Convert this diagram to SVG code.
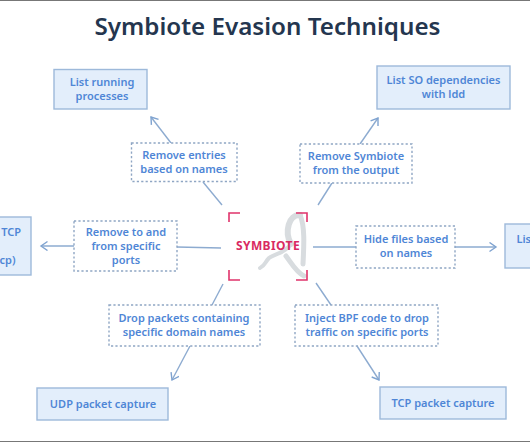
<svg xmlns="http://www.w3.org/2000/svg" width="530" height="442" viewBox="0 0 530 442">
<style>
.t{font-family:"Noto Sans","Liberation Sans",sans-serif;font-size:11px;font-weight:600;fill:#4f86d6;text-anchor:middle}
.s{fill:#e3eefb;stroke:#9db9da;stroke-width:1.4}
.d{fill:#fff;stroke:#8fa6c4;stroke-width:1.4;stroke-dasharray:2.2 2.2}
.c{fill:none;stroke:#8dabd0;stroke-width:1.4}
.b{fill:none;stroke:#e0336b;stroke-width:1.6}
.m{fill:none;stroke:#d8dcdf;stroke-linecap:round}
</style>
<defs>
<marker id="a" markerWidth="12" markerHeight="12" refX="9.5" refY="5" orient="auto" markerUnits="userSpaceOnUse"><path d="M3 0.5L9.5 5L3 9.5" fill="none" stroke="#7fa3d0" stroke-width="1.4"/></marker>
</defs>
<rect width="530" height="442" fill="#fff"/>
<rect width="530" height="1" fill="#777"/>
<rect y="441" width="530" height="1" fill="#777"/>
<text x="267.500" y="35" text-anchor="middle" font-family="Noto Sans,Liberation Sans,sans-serif" font-size="24.200" font-weight="600" fill="#24364f">Symbiote Evasion Techniques</text>
<g id="connectors">
<path class="c" d="M171 143L151 117" marker-end="url(#a)"/>
<path class="c" d="M203 182L222 205"/>
<path class="c" d="M360 144L378 118" marker-end="url(#a)"/>
<path class="c" d="M332 183L318 205"/>
<path class="c" d="M74 246H41" marker-end="url(#a)"/>
<path class="c" d="M177 247L221 248"/>
<path class="c" d="M313 247H356"/>
<path class="c" d="M455 247H496" marker-end="url(#a)"/>
<path class="c" d="M212 305L223 284"/>
<path class="c" d="M190 346L172 380" marker-end="url(#a)"/>
<path class="c" d="M331 305L316 283"/>
<path class="c" d="M357 346L379 380" marker-end="url(#a)"/>
</g>
<g id="symbiote">
<path class="m" stroke-width="6" d="M300 215C289 214 284 232 291 244"/>
<path class="m" stroke-width="5" d="M300 215C305 226 304 245 303 264"/>
<path class="m" stroke-width="4" d="M291 244C284 254 274 254 269 258C265 262 265 266 260 268"/>
<path class="m" stroke-width="5" d="M286 256C292 264 296 272 304 276"/>
<path class="b" d="M229 222V213H240"/>
<path class="b" d="M296 213H307V222"/>
<path class="b" d="M229 270V280H240"/>
<path class="b" d="M296 280H307V270"/>
<text x="268" y="250" text-anchor="middle" font-family="Noto Sans,Liberation Sans,sans-serif" font-size="12" font-weight="700" letter-spacing=".4" fill="#d92a62">SYMBIOTE</text>
</g>
<g id="list-processes"><rect class="s" x="54" y="69.5" width="93" height="39.5"/><text class="t" x="102" y="86">List running</text><text class="t" x="102" y="100">processes</text></g>
<g id="remove-entries"><rect class="d" x="131.500" y="143" width="105.500" height="38.500"/><text class="t" x="184" y="159">Remove entries</text><text class="t" x="184" y="173">based on names</text></g>
<g id="list-so"><rect class="s" x="377" y="66" width="133" height="43"/><text class="t" x="443.500" y="84">List SO dependencies</text><text class="t" x="443.500" y="98">with ldd</text></g>
<g id="remove-symbiote"><rect class="d" x="300" y="144" width="112" height="39"/><text class="t" x="356" y="160">Remove Symbiote</text><text class="t" x="356" y="174">from the output</text></g>
<g id="list-tcp"><rect class="s" x="-6" y="217" width="37" height="58"/><text class="t" x="21" y="236" style="text-anchor:end">TCP</text><text class="t" x="15.500" y="264" style="text-anchor:end">cp)</text></g>
<g id="remove-ports"><rect class="d" x="74" y="221" width="103" height="50"/><text class="t" x="126" y="236">Remove to and</text><text class="t" x="126" y="250">from specific</text><text class="t" x="126" y="264">ports</text></g>
<g id="hide-files"><rect class="d" x="356" y="226" width="99" height="42"/><text class="t" x="406" y="243">Hide files based</text><text class="t" x="406" y="257">on names</text></g>
<g id="list-files"><rect class="s" x="505" y="224" width="32" height="44"/><text class="t" x="516.500" y="243" style="text-anchor:start">Lis</text></g>
<g id="drop-packets"><rect class="d" x="109" y="305" width="151" height="41"/><text class="t" x="184" y="322">Drop packets containing</text><text class="t" x="184" y="336">specific domain names</text></g>
<g id="inject-bpf"><rect class="d" x="295" y="305" width="143" height="41"/><text class="t" x="367" y="322">Inject BPF code to drop</text><text class="t" x="367" y="336">traffic on specific ports</text></g>
<g id="udp-capture"><rect class="s" x="37" y="388" width="131" height="32"/><text class="t" x="103" y="408">UDP packet capture</text></g>
<g id="tcp-capture"><rect class="s" x="380" y="387" width="126" height="32"/><text class="t" x="443" y="407">TCP packet capture</text></g>
</svg>
